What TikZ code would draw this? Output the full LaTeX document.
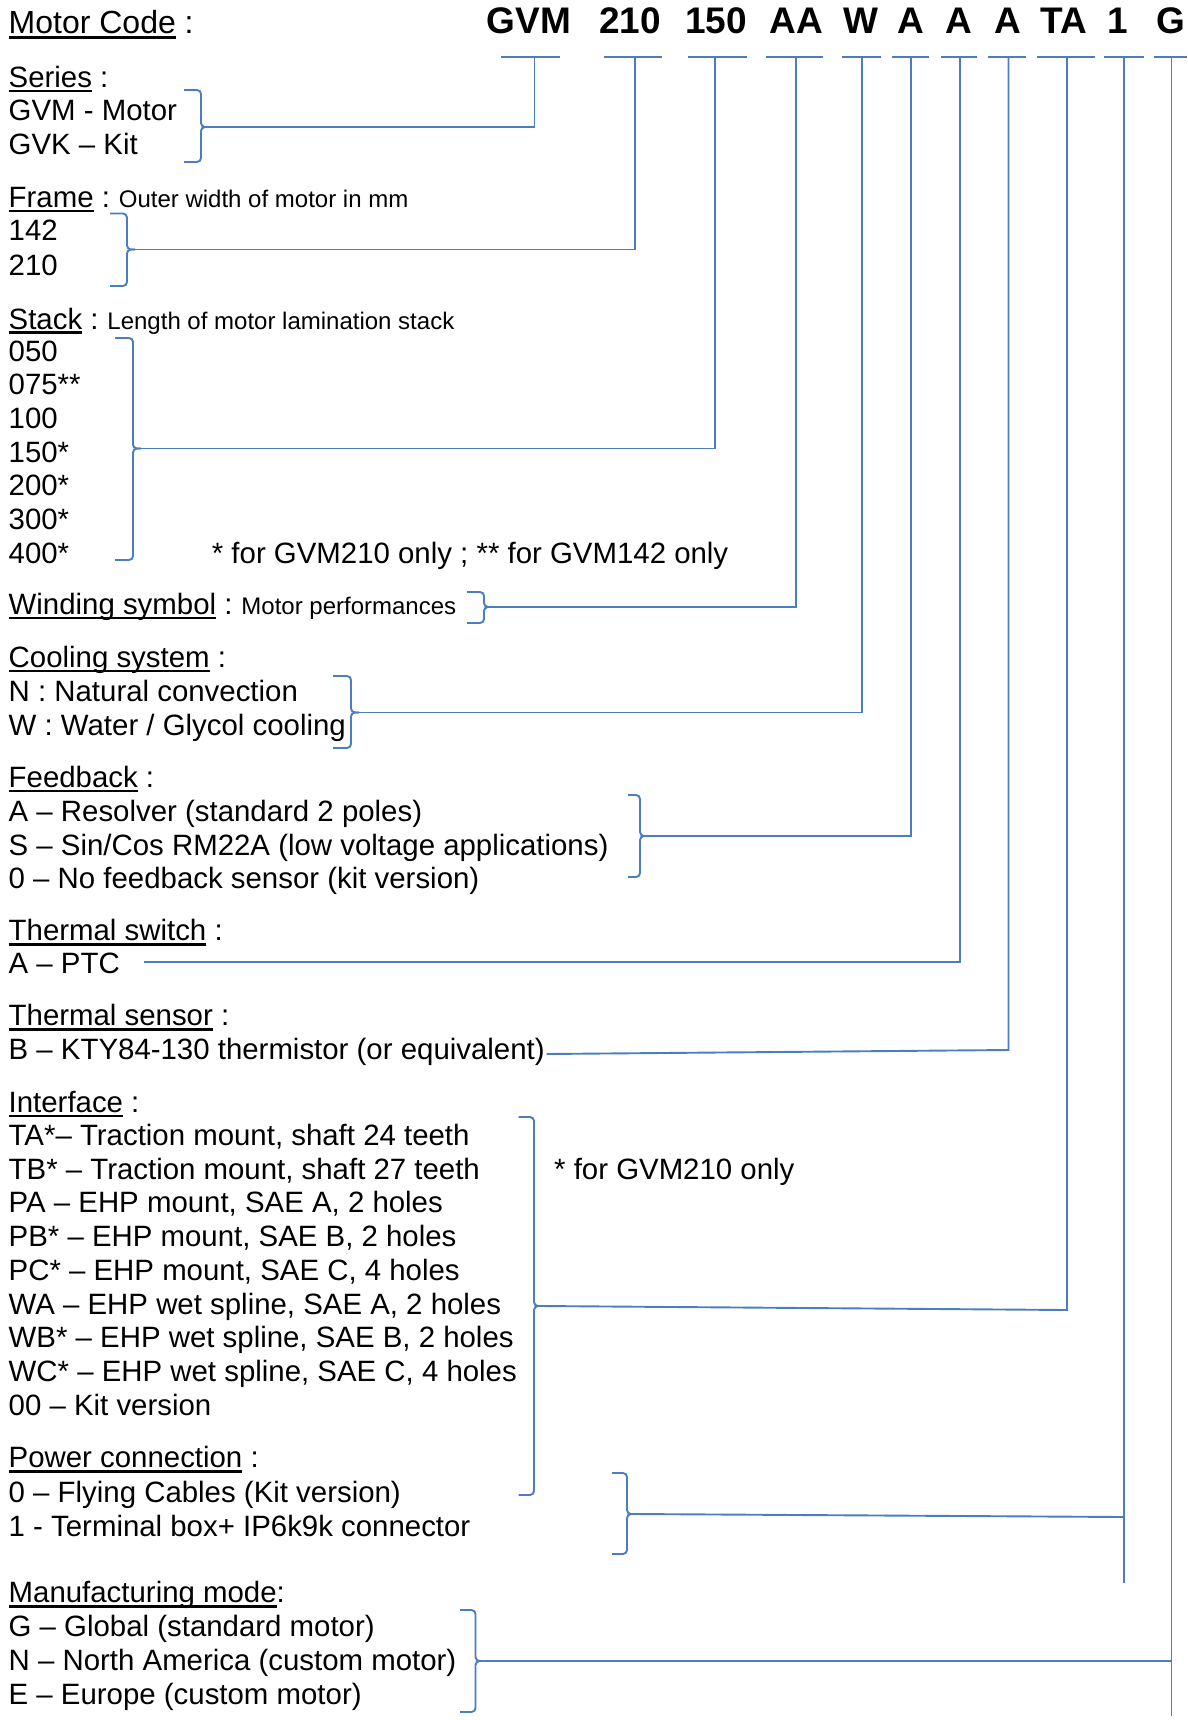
\documentclass[tikz,border=0pt]{standalone}
\usepackage{fontspec}
\setmainfont{Liberation Sans}
\definecolor{lineblue}{RGB}{74,126,193}
\newcommand{\myul}[1]{\setbox0=\hbox{#1}\rlap{\rule[-0.17em]{\wd0}{0.085em}}\box0\relax}
\newcommand{\sm}{\fontsize{24}{28}\selectfont}
\newcommand{\rbr}[6]{%
  \draw[conn,rounded corners=4pt] (#2,#4) -- (#3,#4) -- (#3,#6) -- ({#3+8},#6);
  \draw[conn,rounded corners=4pt] ({#3+8},#6) -- (#3,#6) -- (#3,#5) -- (#2,#5);
  \coordinate (#1) at ({#3+8},#6);}
\tikzset{
  conn/.style={draw=lineblue,line width=1.9pt},
  txt/.style={anchor=base west,inner sep=0pt,font=\fontsize{29.4}{34}\selectfont},
  code/.style={anchor=base,inner sep=0pt,font=\fontsize{37}{44}\selectfont\bfseries},
}
\begin{document}
\begin{tikzpicture}[x=1pt,y=-1pt]
\useasboundingbox (0,0) rectangle (1187,1720);
% header
\node[txt,font=\fontsize{32}{38}\selectfont] (title) at (8.5,33.5) {\myul{Motor Code} :};
\foreach \n/\x/\t in {1/528.7/GVM,2/630/210,3/716/150,4/796/AA,5/861/W,6/911/A,7/959/A,8/1008/A,9/1064/TA,10/1117.5/1,11/1171/G}
  \node[code] (h\n) at (\x,33.5) {\t};
\foreach \i/\l/\r/\v in {1/501/560/534.5,2/604/661.5/635,3/688/747/715,4/766/823/796,5/841.5/881/862,6/892/929/911,7/941/977/960,8/988/1026/1008.5,9/1037/1095/1067,10/1104/1144/1124,11/1154/1187/1171.5}{
  \coordinate (sl\i) at (\l,56.7);
  \coordinate (sr\i) at (\r,56.7);
  \coordinate (s\i) at (\v,56.7);
  \draw[conn] (sl\i) -- (sr\i);
}
% Series
\node[txt] (ser) at (8.5,87.5) {\myul{Series} :};
\node[txt] (ser1) at (8.5,121) {GVM - Motor};
\node[txt] (ser2) at (8.5,155) {GVK – Kit};
\rbr{b1}{184}{201}{90}{162}{127}
\draw[conn] (b1) -| (s1);
% Frame
\node[txt] (fr) at (8.5,207.5) {\myul{Frame} :{\sm{} Outer width of motor in mm}};
\node[txt] (fr1) at (8.5,241) {142};
\node[txt] (fr2) at (8.5,275) {210};
\rbr{b2}{110}{127}{213.5}{286}{249.5}
\draw[conn] (b2) -| (s2);
% Stack
\node[txt] (st) at (8.5,329) {\myul{Stack} :{\sm{} Length of motor lamination stack}};
\foreach \k/\t in {0/050,1/075**,2/100,3/150*,4/200*,5/300*,6/400*}
  \node[txt] (st\k) at (8.5,{361+33.7*\k}) {\t};
\node[txt] (stnote) at (211.7,563.2) {* for GVM210 only ; ** for GVM142 only};
\rbr{b3}{115}{133}{338}{560}{448.5}
\draw[conn] (b3) -| (s3);
% Winding
\node[txt] (wd) at (8.5,614) {\myul{Winding symbol} :{\sm{} Motor performances}};
\rbr{b4}{467}{484}{592}{623}{607}
\draw[conn] (b4) -| (s4);
% Cooling
\node[txt] (co) at (8.5,667) {\myul{Cooling system} :};
\node[txt] (co1) at (8.5,701) {N : Natural convection};
\node[txt] (co2) at (8.5,735) {W : Water / Glycol cooling};
\rbr{b5}{333}{351}{676}{748}{712.5}
\draw[conn] (b5) -| (s5);
% Feedback
\node[txt] (fb) at (8.5,787) {\myul{Feedback} :};
\node[txt] (fb1) at (8.5,821) {A – Resolver (standard 2 poles)};
\node[txt] (fb2) at (8.5,855) {S – Sin/Cos RM22A (low voltage applications)};
\node[txt] (fb3) at (8.5,888.5) {0 – No feedback sensor (kit version)};
\rbr{b6}{628}{640}{795}{877}{836}
\draw[conn] (b6) -| (s6);
% Thermal switch
\node[txt] (tw) at (8.5,940.5) {\myul{Thermal switch} :};
\node[txt] (tw1) at (8.5,973) {A – PTC};
\coordinate (b7) at (144,962.3);
\draw[conn] (b7) -| (s7);
% Thermal sensor
\node[txt] (ts) at (8.5,1025.5) {\myul{Thermal sensor} :};
\node[txt] (ts1) at (8.5,1059) {B – KTY84-130 thermistor (or equivalent)};
\coordinate (b8) at (546.5,1054);
\coordinate (c8) at (1008.5,1050);
\draw[conn] (b8) -- (c8) -- (s8);
% Interface
\node[txt] (it) at (8.5,1112) {\myul{Interface} :};
\foreach \k/\t in {0/{TA*– Traction mount, shaft 24 teeth},1/{TB* – Traction mount, shaft 27 teeth},2/{PA – EHP mount, SAE A, 2 holes},3/{PB* – EHP mount, SAE B, 2 holes},4/{PC* – EHP mount, SAE C, 4 holes},5/{WA – EHP wet spline, SAE A, 2 holes},6/{WB* – EHP wet spline, SAE B, 2 holes},7/{WC* – EHP wet spline, SAE C, 4 holes},8/{00 – Kit version}}
  \node[txt] (it\k) at (8.5,{1145.5+33.7*\k}) {\t};
\node[txt] (itnote) at (554,1179.3) {* for GVM210 only};
\rbr{b9}{518.5}{534}{1117}{1495}{1306}
\coordinate (c9) at (1067,1310);
\draw[conn] (b9) -- (c9) -- (s9);
% Power connection
\node[txt] (pc) at (8.5,1467.5) {\myul{Power connection} :};
\node[txt] (pc1) at (8.5,1502) {0 – Flying Cables (Kit version)};
\node[txt] (pc2) at (8.5,1536) {1 - Terminal box+ IP6k9k connector};
\rbr{b10}{612}{627}{1473}{1554}{1514}
\coordinate (c10) at (1124,1517);
\coordinate (e10) at (1124,1583);
\draw[conn] (s10) -- (e10);
\draw[conn] (b10) -- (c10);
% Manufacturing mode
\node[txt] (mm) at (8.5,1602.5) {\myul{Manufacturing mode}:};
\node[txt] (mm1) at (8.5,1636.5) {G – Global (standard motor)};
\node[txt] (mm2) at (8.5,1670) {N – North America (custom motor)};
\node[txt] (mm3) at (8.5,1704) {E – Europe (custom motor)};
\rbr{b11}{460}{475.5}{1610}{1712}{1661}
\coordinate (e11) at (1171.5,1716);
\draw[conn] (s11) -- (e11);
\draw[conn] (b11) -- (b11 -| s11);
\end{tikzpicture}
\end{document}
